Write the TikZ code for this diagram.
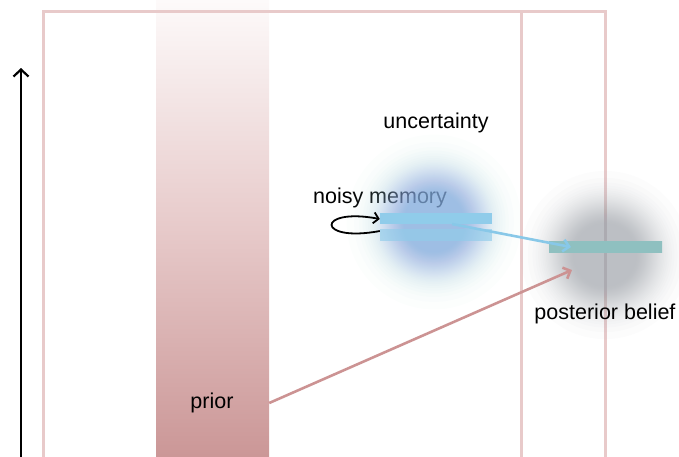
\documentclass[tikz,border=0pt]{standalone}
\usepackage{fontspec}
\setmainfont{Liberation Sans}
\usetikzlibrary{arrows.meta}

\definecolor{framepink}{HTML}{E8CACA}
\definecolor{priortop}{HTML}{FDFAFA}
\definecolor{priormid}{HTML}{E7CACA}
\definecolor{priorbot}{HTML}{CB9797}
\definecolor{memblue}{HTML}{90CCEA}
\definecolor{arrowblue}{HTML}{88C8E8}
\definecolor{arrowpink}{HTML}{CC9393}
\definecolor{glowSky}{HTML}{7CBCEA}
\definecolor{glowA}{HTML}{8EAAE6}
\definecolor{glowC}{HTML}{A8DCCC}
\definecolor{greyglow}{HTML}{A7ABB1}
\definecolor{postblue}{HTML}{88BCE2}
\definecolor{postteal}{HTML}{8FC0C0}
\definecolor{postblueR}{HTML}{8EB8DA}

% posterior bar: blue ends, teal middle
\pgfdeclarehorizontalshading{postbarshade}{100bp}{color(0bp)=(postblue); color(19bp)=(postblue); color(24bp)=(postteal); color(82bp)=(postteal); color(100bp)=(postblueR)}

\tikzset{
  lbl/.style={font=\fontsize{21.5}{24}\selectfont, inner sep=0pt},
  membar/.style={rectangle, inner sep=0pt, minimum width=112pt, minimum height=11.5pt, fill=memblue},
  framestroke/.style={draw=framepink, line width=3pt},
  linkarrow/.style={line width=2.6pt, -{Straight Barb[length=6pt,width=12pt]}},
}

\begin{document}
\begin{tikzpicture}[x=1pt, y=-1pt]
  \useasboundingbox (0,0) rectangle (679,456);
  \clip (0,0) rectangle (679,456);

  % prior column
  \node[rectangle, inner sep=0pt, minimum width=113pt, minimum height=456pt,
        top color=priortop, bottom color=priorbot, middle color=priormid] (prior) at (212.5,228) {};

  % frame with the inner divider
  \draw[framestroke] (43.5,470) |- (605,11) -- (605,470);
  \draw[framestroke] (521.5,11) -- (521.5,470);

  \node[lbl] (noisy) at (380,198) {noisy memory};

  % soft glows, built from stacked translucent discs
  \coordinate (memglow) at (434,222);
  \coordinate (postglow) at (605,255);
  \foreach \k in {1,...,40} {
    \pgfmathsetmacro\r{22+37*sqrt(-ln((1-0.965^\k)/0.8))}
    \ifnum\k<13
      \pgfmathtruncatemacro\t{\k*100/12}
      \colorlet{layerc}{glowA!\t!glowC}
    \else\ifnum\k<27
      \colorlet{layerc}{glowA}
    \else
      \pgfmathtruncatemacro\t{(\k-26)*100/14}
      \colorlet{layerc}{glowSky!\t!glowA}
    \fi\fi
    \fill[layerc, fill opacity=0.035] (memglow) circle (\r pt);
  }
  \foreach \k in {1,...,40} {
    \pgfmathsetmacro\r{24+34*sqrt(-ln((1-0.965^\k)/0.8))}
    \fill[greyglow, fill opacity=0.035] (postglow) circle (\r pt);
  }

  % memory bars and posterior bar
  \node[membar] (memtop) at (436,218.5) {};
  \node[membar, fill opacity=0.65] (membot) at (436,235) {};
  \node[rectangle, inner sep=0pt, minimum width=113pt, minimum height=11pt,
        shading=postbarshade] (postbar) at (605.5,246.5) {};

  % self loop on the memory
  \draw[line width=1.8pt, -{Straight Barb[length=5pt,width=11pt]}]
    ([yshift=4pt]membot.west) .. controls +(-64,12) and +(-64,-12) .. ([yshift=-0.5pt]memtop.west);

  % links into the posterior
  \coordinate (bluestart) at (452,224);
  \coordinate (blueend) at (571,247);
  \coordinate (pinkend) at (572,270);
  \draw[linkarrow, arrowblue] (bluestart) -- (blueend);

  \node[lbl] (priorlbl) at (212,403) {prior};
  \draw[linkarrow, arrowpink] (priorlbl -| prior.east) -- (pinkend);

  \node[lbl] (unc) at (436,123) {uncertainty};
  \node[lbl] (post) at (605,314) {posterior belief};

  % vertical axis
  \coordinate (axisbase) at (21,460);
  \coordinate (axistop) at (21,68);
  \draw[line width=2.2pt, -{Straight Barb[length=7pt,width=15pt]}] (axisbase) -- (axistop);
\end{tikzpicture}
\end{document}
